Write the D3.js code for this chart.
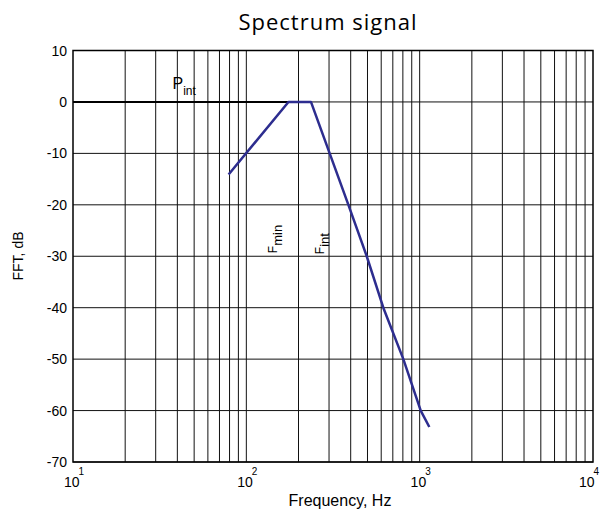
<!DOCTYPE html>
<html>
<head>
<meta charset="utf-8">
<script src="https://cdn.jsdelivr.net/npm/d3@7"></script>
<style>
  body { margin: 0; background: #fff; }
  text { font-family: "Liberation Sans", Arial, sans-serif; fill: #000; }
</style>
</head>
<body>
<div id="chart"></div>
<script>
// values
const freqHz = [79, 175, 236, 388, 495, 617, 805, 1014, 1137];
const fftDb = [-14.1, 0, 0, -20, -30, -40, -50, -60, -63.2];
const pintFreq = [10, 175];
const pintDb = [0, 0];
const yTicks = [10, 0, -10, -20, -30, -40, -50, -60, -70];
const xDecades = [1, 2, 3, 4];

const width = 600, height = 512;
const margin = {top: 50.5, right: 7, bottom: 50, left: 73};

const x = d3.scaleLog().domain([10, 10000]).range([margin.left, width - margin.right]);
const y = d3.scaleLinear().domain([-70, 10]).range([462, margin.top]);

const svg = d3.select("#chart").append("svg")
    .attr("width", width)
    .attr("height", height);

// grid: minor log lines for every decade
const gridX = [];
for (let d = 1; d < 4; ++d) {
    for (let k = 1; k <= 9; ++k) gridX.push(k * Math.pow(10, d));
}
svg.append("g")
  .selectAll("line")
  .data(gridX.filter(v => v > 10))
  .join("line")
    .attr("x1", d => x(d)).attr("x2", d => x(d))
    .attr("y1", y(10)).attr("y2", y(-70))
    .attr("stroke", "#111")
    .attr("stroke-width", 1);

svg.append("g")
  .selectAll("line")
  .data(yTicks)
  .join("line")
    .attr("x1", x(10)).attr("x2", x(10000))
    .attr("y1", d => y(d)).attr("y2", d => y(d))
    .attr("stroke", "#111")
    .attr("stroke-width", 1);

// frame
svg.append("rect")
    .attr("x", x(10)).attr("y", y(10))
    .attr("width", x(10000) - x(10))
    .attr("height", y(-70) - y(10))
    .attr("fill", "none")
    .attr("stroke", "#000")
    .attr("stroke-width", 1.5);

// y tick labels
svg.append("g")
  .selectAll("text")
  .data(yTicks)
  .join("text")
    .attr("x", x(10) - 6)
    .attr("y", d => y(d) + 5)
    .attr("text-anchor", "end")
    .style("font-size", "14px")
    .text(d => d);

// x tick labels 10^n (last one pulled in so it stays on the page)
const xl = svg.append("g")
  .selectAll("text")
  .data(xDecades)
  .join("text")
    .attr("x", d => Math.min(x(Math.pow(10, d)) + 1, width - 11))
    .attr("y", 486.5)
    .attr("text-anchor", "middle")
    .style("font-size", "14px");
xl.append("tspan").text("10");
xl.append("tspan")
    .attr("dy", -12)
    .attr("dx", -1)
    .style("font-size", "10px")
    .text(d => d);

// P_int reference level
const line = d3.line().x(d => x(d[0])).y(d => y(d[1]));
svg.append("path")
    .datum(pintFreq.map((f, i) => [f, pintDb[i]]))
    .attr("d", line)
    .attr("fill", "none")
    .attr("stroke", "#000")
    .attr("stroke-width", 2);

// spectrum
svg.append("path")
    .datum(freqHz.map((f, i) => [f, fftDb[i]]))
    .attr("d", line)
    .attr("fill", "none")
    .attr("stroke", "#2d2d8f")
    .attr("stroke-width", 2.5)
    .attr("stroke-linejoin", "round");

// annotations
const pint = svg.append("text")
    .attr("x", x(37.5)).attr("y", y(2.5))
    .style("font-size", "16px");
pint.append("tspan").text("P");
pint.append("tspan").attr("dy", 6).style("font-size", "12px").text("int");

function vlabel(f, db, sub) {
    const t = svg.append("text")
        .attr("transform", `translate(${x(f)},${y(db)}) rotate(-90)`)
        .style("font-size", "12px");
    t.append("tspan").text("F");
    t.append("tspan").attr("dy", 5).style("font-size", "13px").text(sub);
}
vlabel(150, -29.4, "min");
vlabel(281, -29.6, "int");

// titles
svg.append("text")
    .attr("x", 328).attr("y", 30)
    .attr("text-anchor", "middle")
    .style("font-family", "'Open Sans', sans-serif")
    .style("font-size", "22px")
    .style("letter-spacing", "1px")
    .text("Spectrum signal");

svg.append("text")
    .attr("x", 340).attr("y", 506)
    .attr("text-anchor", "middle")
    .style("font-size", "16px")
    .text("Frequency, Hz");

svg.append("text")
    .attr("transform", "translate(23,256) rotate(-90)")
    .attr("text-anchor", "middle")
    .style("font-size", "14px")
    .text("FFT, dB");
</script>
</body>
</html>
